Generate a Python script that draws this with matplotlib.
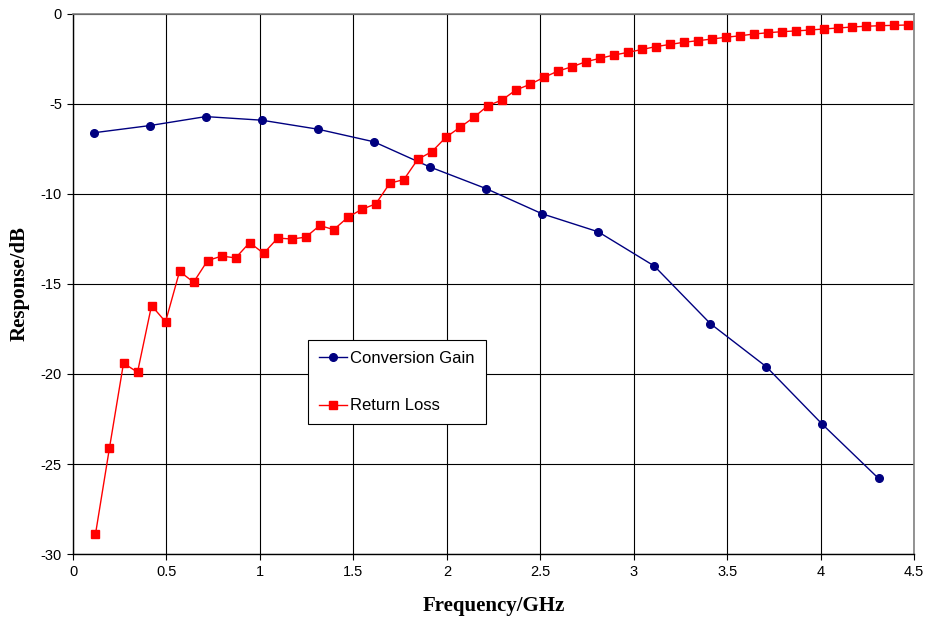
import matplotlib
matplotlib.use("Agg")
import matplotlib.pyplot as plt

# Conversion gain sweep
gain_freq = [0.11, 0.41, 0.71, 1.01, 1.31, 1.61, 1.91, 2.21, 2.51, 2.81,
             3.11, 3.41, 3.71, 4.01, 4.31]
gain_db = [-6.6, -6.2, -5.7, -5.9, -6.4, -7.1, -8.5, -9.7, -11.1, -12.1,
           -14.0, -17.2, -19.6, -22.8, -25.8]

# Return loss sweep
rl_freq = [0.120, 0.195, 0.270, 0.345, 0.420, 0.495, 0.570, 0.645, 0.720, 0.795,
           0.870, 0.945, 1.020, 1.095, 1.170, 1.245, 1.320, 1.395, 1.470, 1.545,
           1.620, 1.695, 1.770, 1.845, 1.920, 1.995, 2.070, 2.145, 2.220, 2.295,
           2.370, 2.445, 2.520, 2.595, 2.670, 2.745, 2.820, 2.895, 2.970, 3.045,
           3.120, 3.195, 3.270, 3.345, 3.420, 3.495, 3.570, 3.645, 3.720, 3.795,
           3.870, 3.945, 4.020, 4.095, 4.170, 4.245, 4.320, 4.395, 4.470]
rl_db = [-28.9, -24.1, -19.4, -19.9, -16.2, -17.1, -14.3, -14.9, -13.7, -13.45,
         -13.55, -12.7, -13.3, -12.45, -12.5, -12.4, -11.75, -11.98, -11.3, -10.85,
         -10.55, -9.4, -9.2, -8.07, -7.65, -6.85, -6.3, -5.74, -5.09, -4.78,
         -4.22, -3.91, -3.52, -3.17, -2.93, -2.65, -2.46, -2.28, -2.13, -1.97,
         -1.81, -1.69, -1.57, -1.48, -1.39, -1.29, -1.21, -1.11, -1.04, -0.98,
         -0.94, -0.89, -0.83, -0.78, -0.72, -0.68, -0.65, -0.63, -0.61]

x_ticks = [0, 0.5, 1, 1.5, 2, 2.5, 3, 3.5, 4, 4.5]
x_labels = ["0", "0.5", "1", "1.5", "2", "2.5", "3", "3.5", "4", "4.5"]
y_ticks = [-30, -25, -20, -15, -10, -5, 0]

sans = ["Liberation Sans", "DejaVu Sans"]
serif = ["Liberation Serif", "DejaVu Serif"]

fig = plt.figure(figsize=(9.27, 6.19), dpi=100)
ax = fig.add_axes([0.0788, 0.105, 0.9072, 0.8724])

ax.plot(gain_freq, gain_db, color="#000080", marker="o", markersize=5.5,
        linewidth=1, label="Conversion Gain", zorder=3)
ax.plot(rl_freq, rl_db, color="#FF0000", marker="s", markersize=5.5,
        linewidth=1, label="Return Loss", zorder=3)

ax.set_xlim(0, 4.5)
ax.set_ylim(-30, 0)
ax.set_xticks(x_ticks)
ax.set_xticklabels(x_labels, family=sans, fontsize=10.5)
ax.set_yticks(y_ticks)
ax.set_yticklabels([str(v) for v in y_ticks], family=sans, fontsize=10.5)
ax.tick_params(direction="out", length=4, width=0.8, colors="black", pad=4)

ax.grid(True, color="black", linewidth=0.8)
ax.set_axisbelow(True)
for side in ["top", "right"]:
    ax.spines[side].set_color("#808080")
    ax.spines[side].set_linewidth(1.2)
for side in ["left", "bottom"]:
    ax.spines[side].set_color("black")
    ax.spines[side].set_linewidth(1.0)

ax.set_xlabel("Frequency/GHz", family=serif, fontsize=15, fontweight="bold", labelpad=12)
ax.set_ylabel("Response/dB", family=serif, fontsize=15, fontweight="bold", labelpad=8)

leg = ax.legend(loc="upper left", bbox_to_anchor=(0.279, 0.396), borderaxespad=0,
                prop={"family": sans, "size": 12}, fancybox=False,
                edgecolor="black", framealpha=1, labelspacing=1.95,
                handlelength=1.7, handletextpad=0.2, borderpad=0.65)
leg.get_frame().set_linewidth(0.8)

fig.savefig("out.png", dpi=100)
